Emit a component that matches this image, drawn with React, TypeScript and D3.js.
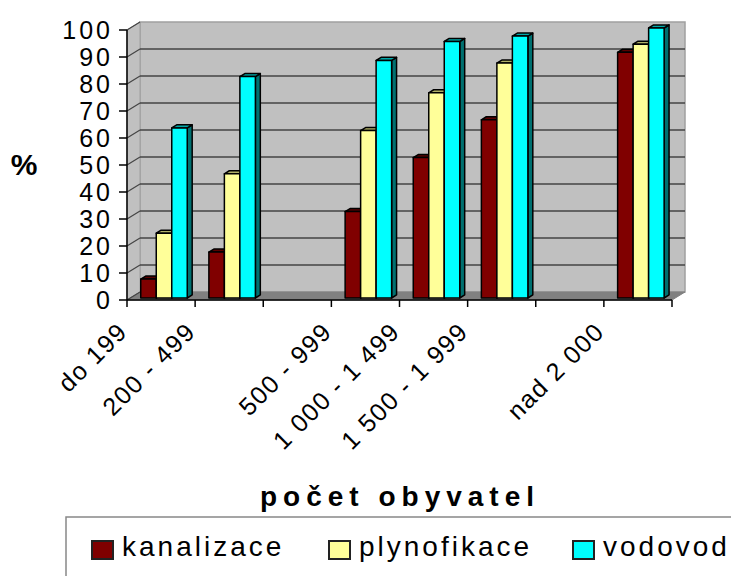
import React from "react";
import * as d3 from "d3";

// eight slots on the category axis, two of them left empty in the source chart
const slotLabels = ["do 199", "200 - 499", "", "500 - 999", "1 000 - 1 499", "1 500 - 1 999", "", "nad 2 000"];
const kanalizace = [7, 17, null, 32, 52, 66, null, 91];
const plynofikace = [24, 46, null, 62, 76, 87, null, 94];
const vodovod = [63, 82, null, 88, 95, 97, null, 100];
const seriesNames = ["kanalizace", "plynofikace", "vodovod"];
const yTicks = [0, 10, 20, 30, 40, 50, 60, 70, 80, 90, 100];

const colors = [
  { front: "#800000", top: "#5a0000", side: "#400000" },
  { front: "#ffff99", top: "#b0b066", side: "#8c8c50" },
  { front: "#00ffff", top: "#00a8a8", side: "#007070" },
];

const DX = 13;
const DY = -8;
const F0 = 0.25;
const F1 = 0.63;
const FONT = "'Liberation Sans', Arial, sans-serif";

const pts = (p: number[][]) => p.map((d) => d.join(",")).join(" ");

const App = () => {
  const width = 731;
  const height = 576;
  const x = d3.scaleBand<number>().domain(d3.range(slotLabels.length)).range([127, 672]);
  const y = d3.scaleLinear().domain([0, 100]).range([300, 30]);
  const inner = d3.scaleBand<number>().domain(d3.range(3)).range([0, 46.5]);
  const data = [kanalizace, plynofikace, vodovod];

  const left = x.range()[0];
  const right = x.range()[1];
  const y0 = y(0);
  const y100 = y(100);

  const bars: React.ReactNode[] = [];
  slotLabels.forEach((_, i) => {
    data.forEach((vals, s) => {
      const v = vals[i];
      if (v == null) return;
      const c = colors[s];
      const bx = (x(i) as number) + 10.5 + DX * F0 + (inner(s) as number);
      const w = inner.bandwidth();
      const yt = y(v) + DY * F0;
      const yb = y0 + DY * F0;
      const ddx = DX * (F1 - F0);
      const ddy = DY * (F1 - F0);
      bars.push(
        <g key={`b${i}-${s}`} stroke="#000" strokeWidth={1.5} strokeLinejoin="round">
          <polygon fill={c.side} points={pts([[bx + w, yt], [bx + w + ddx, yt + ddy], [bx + w + ddx, yb + ddy], [bx + w, yb]])} />
          <polygon fill={c.top} points={pts([[bx, yt], [bx + w, yt], [bx + w + ddx, yt + ddy], [bx + ddx, yt + ddy]])} />
          <rect x={bx} y={yt} width={w} height={yb - yt} fill={c.front} />
        </g>
      );
    });
  });

  return (
    <svg width={width} height={height} style={{ display: "block", position: "absolute", left: 0, top: 0 }}>
      <rect width={width} height={height} fill="#fff" />
      {/* back wall */}
      <rect x={left + DX} y={y100 + DY} width={right - left} height={y0 - y100} fill="#c0c0c0" stroke="#a0a0a0" strokeWidth={1.5} />
      {/* side wall */}
      <polygon fill="#c0c0c0" stroke="#a0a0a0" strokeWidth={1} points={pts([[left, y100], [left + DX, y100 + DY], [left + DX, y0 + DY], [left, y0]])} />
      {/* floor */}
      <polygon fill="#808080" stroke="#808080" points={pts([[left, y0], [left + DX, y0 + DY], [right + DX, y0 + DY], [right, y0]])} />
      {/* grid */}
      {yTicks.map((t) => (
        <g key={`g${t}`} stroke="#444" strokeWidth={1.3} fill="none">
          {t > 0 && t < 100 && <line x1={left + DX} x2={right + DX} y1={y(t) + DY} y2={y(t) + DY} />}
          <line x1={left} x2={left + DX} y1={y(t)} y2={y(t) + DY} />
        </g>
      ))}
      {bars}
      {/* axes */}
      <line x1={left} x2={left} y1={y100} y2={y0} stroke="#000" strokeWidth={1.5} />
      <line x1={left} x2={right} y1={y0} y2={y0} stroke="#000" strokeWidth={1.5} />
      {yTicks.map((t) => (
        <g key={`yt${t}`}>
          <line x1={left - 8} x2={left} y1={y(t)} y2={y(t)} stroke="#000" strokeWidth={1.5} />
          <text x={113} y={y(t)} dy="0.36em" textAnchor="end" fontFamily={FONT} fontSize={25} letterSpacing={3}>
            {t}
          </text>
        </g>
      ))}
      {d3.range(slotLabels.length + 1).map((i) => {
        const tx = left + i * x.bandwidth();
        return <line key={`xt${i}`} x1={tx} x2={tx} y1={y0} y2={y0 + 7} stroke="#000" strokeWidth={1.5} />;
      })}
      {slotLabels.map((lab, i) =>
        lab ? (
          <text
            key={`xl${i}`}
            transform={`translate(${(x(i) as number) + 2},${333}) rotate(-45)`}
            textAnchor="end"
            fontFamily={FONT}
            fontSize={25}
            letterSpacing={1.5}
          >
            {lab}
          </text>
        ) : null
      )}
      <text x={24} y={175} textAnchor="middle" fontFamily={FONT} fontSize={30} fontWeight="bold">
        %
      </text>
      <text x={400} y={506} textAnchor="middle" fontFamily={FONT} fontSize={28} fontWeight="bold" letterSpacing={6}>
        počet obyvatel
      </text>
      {/* legend */}
      <rect x={66} y={517} width={700} height={80} fill="#fff" stroke="#888" strokeWidth={1.5} />
      {seriesNames.map((n, s) => {
        const lx = [92, 329, 573][s];
        return (
          <g key={`lg${s}`}>
            <rect x={lx} y={541} width={21} height={18} fill={colors[s].front} stroke="#222" strokeWidth={2} />
            <text x={lx + 30} y={556} fontFamily={FONT} fontSize={28} letterSpacing={3}>
              {n}
            </text>
          </g>
        );
      })}
    </svg>
  );
};

export default App;
